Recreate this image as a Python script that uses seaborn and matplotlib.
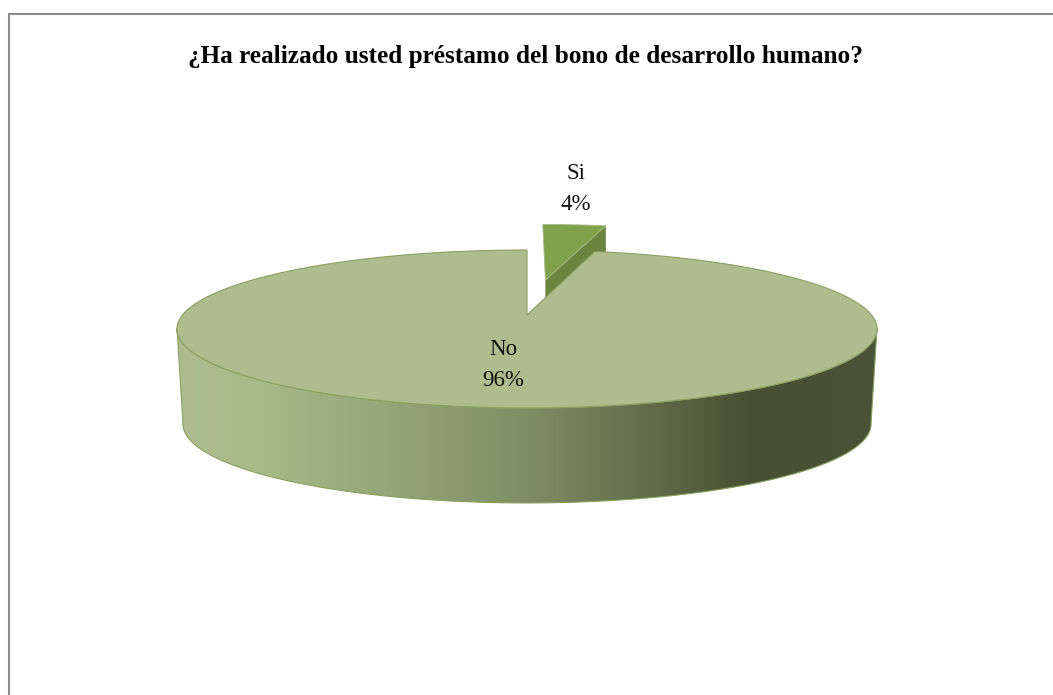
"""
Pie chart with a fake 3D look: seaborn theme, ax.pie for the wedges,
then each wedge is projected onto a tilted disc.
"""

import numpy as np
import matplotlib.pyplot as plt
import seaborn as sns
from matplotlib.colors import LinearSegmentedColormap
from matplotlib.patches import Polygon

categories = ['Si', 'No']
percent = [3.7, 96.3]
title = '¿Ha realizado usted préstamo del bono de desarrollo humano?'

sns.set_theme(style='white')
plt.rcParams['font.family'] = ['Liberation Serif', 'DejaVu Serif']

W, H = 1053, 695
# projection of the unit disc, in pixels
CX, CY = 527, 315
RX, RY, PERSP = 344.5, 76.5, 0.177
DEPTH, SHRINK = 95, 0.983

TOP_MAIN = '#adbd8e'
TOP_SLICE = '#81a14d'
SIDE_SLICE = '#6b8440'
EDGE = '#8aa060'


def project(u, v):
    k = 1 + PERSP * v
    return CX + RX * u / k, CY - RY * v / k


def wedge_outline(wedge, n=300):
    th = np.radians(np.linspace(wedge.theta1, wedge.theta2, n))
    cu, cv = wedge.center
    u = np.r_[cu, cu + wedge.r * np.cos(th)]
    v = np.r_[cv, cv + wedge.r * np.sin(th)]
    return np.column_stack(project(u, v))


fig = plt.figure(figsize=(W / 100, H / 100), dpi=100)
ax = fig.add_axes([0, 0, 1, 1])

wedges, _ = ax.pie(percent, explode=[0.5, 0], startangle=90, counterclock=False)
for w in wedges:
    w.set_visible(False)
ax.set_aspect('auto')
ax.set_xlim(0, W)
ax.set_ylim(H, 0)
ax.axis('off')

slice_top = wedge_outline(wedges[0])
main_top = wedge_outline(wedges[1])

# exploded slice: side first, then its top, the main disc covers the rest
side = np.vstack([slice_top[[0, 1]], slice_top[[1, 0]] + [0, 60]])
ax.add_patch(Polygon(side, fc=SIDE_SLICE, ec='none', zorder=1))
ax.add_patch(Polygon(slice_top, fc=TOP_SLICE, ec='#a8bb8a', lw=0.6, zorder=2))

# side band of the disc with a left-to-right shade
th = np.radians(np.linspace(180, 360, 300))
rim_u, rim_v = np.cos(th), np.sin(th)
rim_x, rim_y = project(rim_u, rim_v)
keep = rim_y >= CY + 13
rim = np.column_stack([rim_x[keep], rim_y[keep]])
low = np.column_stack([CX + (rim[:, 0] - CX) * SHRINK, rim[:, 1] + DEPTH])
band = Polygon(np.vstack([rim, low[::-1]]), fc='none', ec=EDGE, lw=0.8, zorder=3)
ax.add_patch(band)

shade = LinearSegmentedColormap.from_list(
    'shade', [(0, '#adbd8e'), (0.12, '#a8ba88'), (0.5, '#7f8f65'), (0.82, '#475033'), (1, '#4a5338')]
)
img = ax.imshow(np.linspace(0, 1, 500)[None, :], cmap=shade, aspect='auto',
                extent=[rim[:, 0].min(), rim[:, 0].max(), 520, 320], zorder=2.5)
img.set_clip_path(band)
ax.set_xlim(0, W)
ax.set_ylim(H, 0)

ax.add_patch(Polygon(main_top, fc=TOP_MAIN, ec=EDGE, lw=0.8, zorder=4))

# chart frame, runs off the picture on the right and bottom
ax.plot([8.5, 8.5, W + 5], [H + 5, 14, 14], color='#8c8c8c', lw=1.5, zorder=5)

ax.text(525, 56, title, ha='center', va='center', fontsize=18.2, fontweight='bold',
        color='black', zorder=6)
ax.text(576, 189, f'{categories[0]}\n{percent[0]:.0f}%', ha='center', va='center',
        fontsize=16.5, color='#111111', linespacing=1.6, zorder=6)
ax.text(503, 365, f'{categories[1]}\n{percent[1]:.0f}%', ha='center', va='center',
        fontsize=16.5, color='#111111', linespacing=1.6, zorder=6)

fig.savefig('out.png', dpi=100)
